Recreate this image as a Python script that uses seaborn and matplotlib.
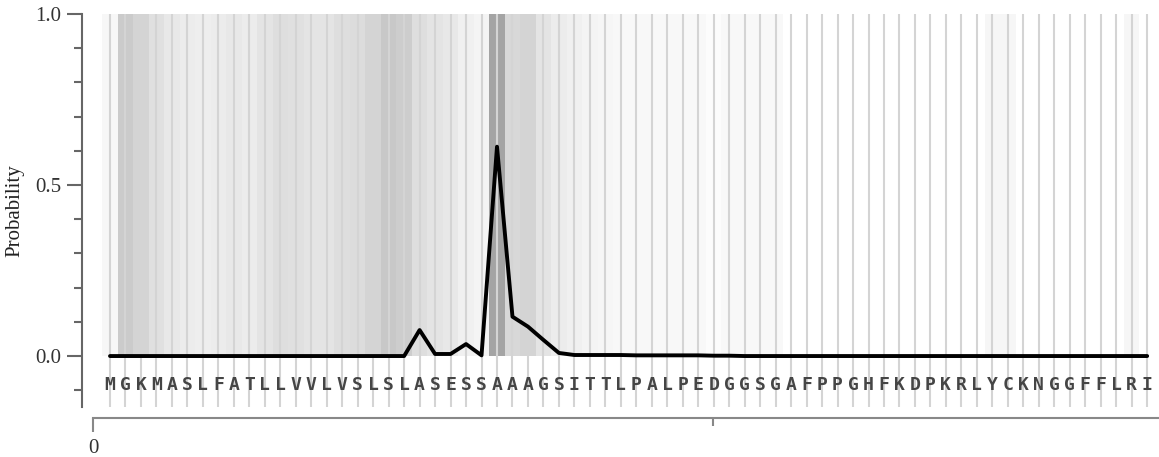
import numpy as np
import pandas as pd
import matplotlib
matplotlib.use("Agg")
import matplotlib.pyplot as plt
import seaborn as sns

sequence = "MGKMASLFATLLVVLVSLSLASESSAAAGSITTLPALPEDGGSGAFPPGHFKDPKRLYCKNGGFFLRI"

# probability per residue
probability = [0.0] * 20 + [
    0.076, 0.006, 0.006, 0.035, 0.002, 0.612, 0.115, 0.086, 0.047, 0.009,
    0.003, 0.003, 0.003, 0.003, 0.002, 0.002, 0.002, 0.002, 0.002, 0.001,
    0.001,
] + [0.0] * 27

# background shade per residue, grey level 0-255
shade = [
    247, 203, 212, 224, 232, 236, 238, 236, 232, 236,
    228, 222, 224, 228, 228, 222, 220, 212, 200, 205,
    222, 228, 232, 240, 244, 164, 216, 212, 228, 236,
    240, 244, 246, 248, 248, 248, 248, 248, 248, 252,
    248, 248, 248, 248, 255, 255, 255, 255, 255, 255,
    255, 255, 255, 255, 255, 255, 255, 246, 246, 255,
    255, 255, 255, 255, 255, 255, 246, 255,
]

df = pd.DataFrame({
    "pos": np.arange(len(sequence)),
    "residue": list(sequence),
    "probability": probability,
    "shade": shade,
})

sns.set_style("white")
plt.rcParams["font.family"] = ["Liberation Serif", "DejaVu Serif"]

W, H = 1159, 457
fig = plt.figure(figsize=(W / 100, H / 100), dpi=100)

# main panel: spine at x=82px, top 14px, bottom 407px
ax = fig.add_axes([82 / W, (H - 407) / H, (W - 82) / W, (407 - 14) / H])
step = 15.48
ax.set_xlim((82 - 110) / step, (W - 110) / step)
ax.set_ylim(-0.149, 1.0)

colors = [(g / 255, g / 255, g / 255) for g in df["shade"]]
ax.bar(df["pos"], 1.0, width=1.0, bottom=0, color=colors, linewidth=0, zorder=1)
ax.vlines(df["pos"], -0.15, 1.0, color="#d4d4d4", lw=1.5, zorder=2)
sns.lineplot(data=df, x="pos", y="probability", color="black", lw=2.8,
             ax=ax, zorder=4)

for p, r in zip(df["pos"], df["residue"]):
    ax.text(p, -0.085, r, ha="center", va="center", fontsize=13,
            family="DejaVu Sans Mono", weight="bold", color="#454545", zorder=5)

for s in ["top", "right", "bottom"]:
    ax.spines[s].set_visible(False)
ax.spines["left"].set_color("#666666")
ax.spines["left"].set_linewidth(1.5)
ax.set_xticks([])
ax.set_yticks([0.0, 0.5, 1.0])
ax.set_yticklabels(["0.0", "0.5", "1.0"])
ax.set_yticks(np.arange(-0.1, 1.0, 0.1), minor=True)
ax.tick_params(axis="y", which="major", left=True, length=11, width=1.5,
               color="#666666", labelsize=15, labelcolor="#333333", pad=4)
ax.tick_params(axis="y", which="minor", left=True, length=6, width=1.5,
               color="#666666")
ax.set_xlabel("")
ax.set_ylabel("Probability", fontsize=15, color="#222222", labelpad=8)
ax.patch.set_alpha(0)

# ruler axis below
ax2 = fig.add_axes([93 / W, (H - 418) / H, (W - 93) / W, 0.001])
ax2.set_xlim(0, (W - 93) / 12.4)
for s in ["top", "right", "left"]:
    ax2.spines[s].set_visible(False)
ax2.spines["bottom"].set_color("#888888")
ax2.spines["bottom"].set_linewidth(1.5)
ax2.set_yticks([])
ax2.set_xticks([0])
ax2.set_xticklabels(["0"])
ax2.set_xticks([50], minor=True)
ax2.tick_params(axis="x", which="major", bottom=True, length=10, width=1.5,
                color="#888888", labelsize=15, labelcolor="#333333", pad=5)
ax2.tick_params(axis="x", which="minor", bottom=True, length=6, width=1.5,
                color="#888888")
ax2.patch.set_alpha(0)

fig.savefig("out.png", dpi=100)
